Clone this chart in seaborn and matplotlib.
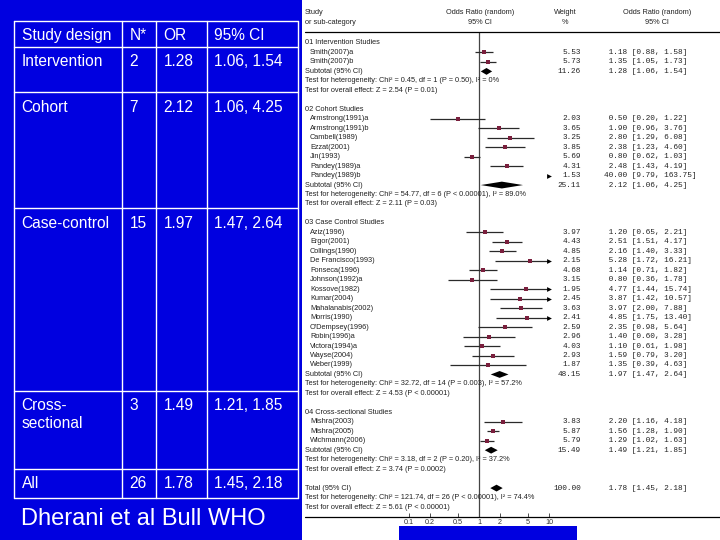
import numpy as np
import pandas as pd
import matplotlib
matplotlib.use("Agg")
import matplotlib.pyplot as plt
import seaborn as sns
from matplotlib.transforms import blended_transform_factory
from matplotlib.lines import Line2D
from matplotlib.patches import Rectangle
from matplotlib.ticker import NullLocator

sns.set_theme(style="white")
plt.rcParams['font.family'] = ['Liberation Sans', 'DejaVu Sans']

# ---------------- data ----------------
designs = ["Intervention", "Cohort", "Case-control", "Cross-\nsectional", "All"]
n_studies = [2, 7, 15, 3, 26]
pooled_or = [1.28, 2.12, 1.97, 1.49, 1.78]
pooled_lo = [1.06, 1.06, 1.47, 1.21, 1.45]
pooled_hi = [1.54, 4.25, 2.64, 1.85, 2.18]
pooled_weight = [11.26, 25.11, 48.15, 15.49, 100.00]

group_titles = ["01 Intervention Studies", "02 Cohort Studies",
                "03 Case Control Studies", "04 Cross-sectional Studies"]

study_names = ["Smith(2007)a", "Smith(2007)b",
               "Armstrong(1991)a", "Armstrong(1991)b", "Cambell(1989)", "Ezzat(2001)",
               "Jin(1993)", "Pandey(1989)a", "Pandey(1989)b",
               "Aziz(1996)", "Ergor(2001)", "Collings(1990)", "De Francisco(1993)",
               "Fonseca(1996)", "Johnson(1992)a", "Kossove(1982)", "Kumar(2004)",
               "Mahalanabis(2002)", "Morris(1990)", "O'Dempsey(1996)", "Robin(1996)a",
               "Victora(1994)a", "Wayse(2004)", "Weber(1999)",
               "Mishra(2003)", "Mishra(2005)", "Wichmann(2006)"]
study_group = [0, 0,
               1, 1, 1, 1, 1, 1, 1,
               2, 2, 2, 2, 2, 2, 2, 2, 2, 2, 2, 2, 2, 2, 2,
               3, 3, 3]
study_weight = [5.53, 5.73,
                2.03, 3.65, 3.25, 3.85, 5.69, 4.31, 1.53,
                3.97, 4.43, 4.85, 2.15, 4.68, 3.15, 1.95, 2.45, 3.63, 2.41, 2.59, 2.96,
                4.03, 2.93, 1.87,
                3.83, 5.87, 5.79]
study_or = [1.18, 1.35,
            0.50, 1.90, 2.80, 2.38, 0.80, 2.48, 40.00,
            1.20, 2.51, 2.16, 5.28, 1.14, 0.80, 4.77, 3.87, 3.97, 4.85, 2.35, 1.40,
            1.10, 1.59, 1.35,
            2.20, 1.56, 1.29]
study_lo = [0.88, 1.05,
            0.20, 0.96, 1.29, 1.23, 0.62, 1.43, 9.79,
            0.65, 1.51, 1.40, 1.72, 0.71, 0.36, 1.44, 1.42, 2.00, 1.75, 0.98, 0.60,
            0.61, 0.79, 0.39,
            1.16, 1.28, 1.02]
study_hi = [1.58, 1.73,
            1.22, 3.76, 6.08, 4.60, 1.03, 4.19, 163.75,
            2.21, 4.17, 3.33, 16.21, 1.82, 1.78, 15.74, 10.57, 7.88, 13.40, 5.64, 3.28,
            1.98, 3.20, 4.63,
            4.18, 1.90, 1.63]

het_chi2 = [0.45, 54.77, 32.72, 3.18, 121.74]
het_df = [1, 6, 14, 2, 26]
het_p = ["= 0.50", "< 0.00001", "= 0.003", "= 0.20", "< 0.00001"]
het_i2 = ["0%", "89.0%", "57.2%", "37.2%", "74.4%"]
z_vals = [2.54, 2.11, 4.53, 3.74, 5.61]
z_p = ["= 0.01", "= 0.03", "< 0.00001", "= 0.0002", "< 0.00001"]

tick_vals = [0.1, 0.2, 0.5, 1, 2, 5, 10]
tick_labels = ["0.1", "0.2", "0.5", "1", "2", "5", "10"]

# ---------------- layout / style ----------------
W, H = 720, 540
BLUE = "#0000E0"
SQ_COLOR = "#7A1F3D"
PX_ONE, PX_DEC = 479, 70          # pixel of OR=1, pixels per decade
ROW0, ROW_STEP = 43, 9.47          # first row pixel, row spacing
AX_L, AX_R, AX_T, AX_B = 400, 560, 32, 517
CLIP_HI = 10


def fx(px):
    return px / W


def fy(py):
    return 1 - py / H


fig = plt.figure(figsize=(7.2, 5.4), dpi=100, facecolor=BLUE)

# white panel behind the forest plot
fig.add_artist(Rectangle((fx(302), 0), fx(720) - fx(302), 1, transform=fig.transFigure,
                         facecolor="white", edgecolor="none", zorder=-2))
fig.add_artist(Rectangle((fx(399), 0), fx(577) - fx(399), fy(526), transform=fig.transFigure,
                         facecolor=BLUE, edgecolor="none", zorder=-1))

# ---------------- left table ----------------
col_x = [14, 122, 156, 207, 298]
row_y = [21, 47, 92, 208, 391, 469, 498]
for y in row_y:
    fig.add_artist(Line2D([fx(col_x[0]), fx(col_x[-1])], [fy(y), fy(y)],
                          transform=fig.transFigure, color="white", lw=1.0))
for x in col_x:
    fig.add_artist(Line2D([fx(x), fx(x)], [fy(row_y[0]), fy(row_y[-1])],
                          transform=fig.transFigure, color="white", lw=1.0))

headers = ["Study design", "N*", "OR", "95% CI"]
for j, h in enumerate(headers):
    fig.text(fx(col_x[j] + 7.5), fy(row_y[0] + 14.5), h, color="white",
             fontsize=11.2, va="center", ha="left")

for i, d in enumerate(designs):
    cells = [d, str(n_studies[i]), f"{pooled_or[i]:.2f}",
             f"{pooled_lo[i]:.2f}, {pooled_hi[i]:.2f}"]
    top = row_y[i + 1]
    for j, c in enumerate(cells):
        for k, line in enumerate(c.split("\n")):
            fig.text(fx(col_x[j] + 7.5), fy(top + 15 + 18 * k), line, color="white",
                     fontsize=11.2, va="center", ha="left")

fig.text(fx(21), fy(519), "Dherani et al Bull WHO", color="white", fontsize=17,
         va="center", ha="left")

# ---------------- forest plot ----------------
ax = fig.add_axes([fx(AX_L), fy(AX_B), fx(AX_R) - fx(AX_L), fy(AX_T) - fy(AX_B)])
ax.set_xscale("log")
ax.set_xlim(10 ** ((AX_L - PX_ONE) / PX_DEC), 10 ** ((AX_R - PX_ONE) / PX_DEC))
ax.set_ylim((AX_B - ROW0) / ROW_STEP, (AX_T - ROW0) / ROW_STEP)
ax.patch.set_alpha(0)
for s in ax.spines.values():
    s.set_visible(False)
ax.set_yticks([])
ax.set_xticks(tick_vals)
ax.set_xticklabels(tick_labels)
ax.xaxis.set_minor_locator(NullLocator())
ax.tick_params(axis="x", bottom=True, length=3, width=0.6, direction="in",
               labelsize=5.2, pad=1.5, colors="#333333")

# build the row structure
rows = []
study_rows = []
pooled_rows = []
r = 0
for g, title in enumerate(group_titles):
    rows.append((r, title, 305, None, None))
    r += 1
    for i, gg in enumerate(study_group):
        if gg == g:
            study_rows.append(r)
            rows.append((r, study_names[i], 310, f"{study_weight[i]:.2f}",
                         f"{study_or[i]:>5.2f} [{study_lo[i]:.2f}, {study_hi[i]:.2f}]"))
            r += 1
    pooled_rows.append(r)
    rows.append((r, "Subtotal (95% CI)", 305, f"{pooled_weight[g]:.2f}",
                 f"{pooled_or[g]:>5.2f} [{pooled_lo[g]:.2f}, {pooled_hi[g]:.2f}]"))
    r += 1
    rows.append((r, f"Test for heterogeneity: Chi\u00b2 = {het_chi2[g]:.2f}, df = {het_df[g]} "
                    f"(P {het_p[g]}), I\u00b2 = {het_i2[g]}", 305, None, None))
    r += 1
    rows.append((r, f"Test for overall effect: Z = {z_vals[g]:.2f} (P {z_p[g]})", 305, None, None))
    r += 2
pooled_rows.append(r)
rows.append((r, "Total (95% CI)", 305, f"{pooled_weight[4]:.2f}",
             f"{pooled_or[4]:>5.2f} [{pooled_lo[4]:.2f}, {pooled_hi[4]:.2f}]"))
rows.append((r + 1, f"Test for heterogeneity: Chi\u00b2 = {het_chi2[4]:.2f}, df = {het_df[4]} "
                    f"(P {het_p[4]}), I\u00b2 = {het_i2[4]}", 305, None, None))
rows.append((r + 2, f"Test for overall effect: Z = {z_vals[4]:.2f} (P {z_p[4]})", 305, None, None))

blend = blended_transform_factory(fig.transFigure, ax.transData)
for (ry, label, xpx, wtxt, ortxt) in rows:
    ax.text(fx(xpx), ry, label, transform=blend, fontsize=5.3, va="center", ha="left",
            color="#222222", clip_on=False)
    if wtxt is not None:
        ax.text(fx(581), ry, wtxt, transform=blend, fontsize=5.6, va="center", ha="right",
                color="#222222", family="Liberation Mono", clip_on=False)
        ax.text(fx(604), ry, ortxt, transform=blend, fontsize=5.6, va="center", ha="left",
                color="#222222", family="Liberation Mono", clip_on=False)

# header texts
hdr = [(305, 13, "Study", "left"), (305, 23, "or sub-category", "left"),
       (480, 13, "Odds Ratio (random)", "center"), (480, 23, "95% CI", "center"),
       (565, 13, "Weight", "center"), (565, 23, "%", "center"),
       (657, 13, "Odds Ratio (random)", "center"), (657, 23, "95% CI", "center")]
for (xp, yp, t, ha) in hdr:
    fig.text(fx(xp), fy(yp), t, fontsize=5.3, color="#222222", ha=ha, va="center")

fig.add_artist(Line2D([fx(305), fx(720)], [fy(32), fy(32)], transform=fig.transFigure,
                      color="black", lw=0.9))
fig.add_artist(Line2D([fx(305), fx(720)], [fy(517), fy(517)], transform=fig.transFigure,
                      color="black", lw=0.9))

# reference line at OR = 1
ax.axvline(1, color="#444444", lw=0.9, zorder=1)

df = pd.DataFrame({"row": study_rows, "or": study_or, "lo": study_lo, "hi": study_hi,
                   "w": study_weight})
xmin = ax.get_xlim()[0]
ax.hlines(df["row"], np.clip(df["lo"], xmin, CLIP_HI), np.clip(df["hi"], xmin, CLIP_HI),
          color="#2a2a2a", lw=0.9, zorder=2)
sns.scatterplot(data=df, x="or", y="row", marker="s", color=SQ_COLOR, s=11,
                linewidth=0, ax=ax, zorder=3, legend=False)
arrows = df[df["hi"] > CLIP_HI].assign(tip=CLIP_HI)
sns.scatterplot(data=arrows, x="tip", y="row", marker=">", color="black", s=12,
                linewidth=0, ax=ax, zorder=3, legend=False)

pdf = pd.DataFrame({"row": pooled_rows, "or": pooled_or, "lo": pooled_lo, "hi": pooled_hi})
hh = 0.36
for _, p in pdf.iterrows():
    ax.fill([p["lo"], p["or"], p["hi"], p["or"]],
            [p["row"], p["row"] - hh, p["row"], p["row"] + hh],
            color="black", zorder=3, lw=0)
ax.set_xlabel("")
ax.set_ylabel("")

fig.savefig("out.png", dpi=100, facecolor=BLUE)
